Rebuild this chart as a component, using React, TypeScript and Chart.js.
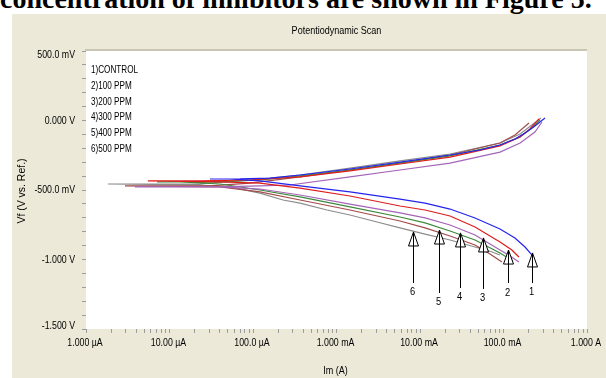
import React, { useEffect, useRef } from "react";
import { Chart, registerables } from "chart.js";

Chart.register(...registerables);

// ---------- data ----------
const seriesNames = ["1)CONTROL", "2)100 PPM", "3)200 PPM", "4)300 PPM", "5)400 PPM", "6)500 PPM"];
const seriesColors = ["#2424EE", "#E01C1C", "#A464B8", "#3C8A3C", "#A44A4A", "#8C8C8C"];

// current (A) and potential (V) for each scan
const controlI = [0.225, 0.181, 0.137, 0.0908, 0.0456, 0.0229, 0.0115, 0.00576, 0.00145, 3.66e-4, 1.21e-4, 5.3e-5, 3.05e-5, 7.0e-5, 1.6e-4, 3.66e-4, 1.45e-3, 5.76e-3, 0.0229, 0.0523, 0.0908, 0.137, 0.181, 0.238, 0.314];
const controlE = [-0.975, -0.91, -0.845, -0.781, -0.701, -0.637, -0.594, -0.565, -0.514, -0.471, -0.435, -0.421, -0.421, -0.42, -0.414, -0.392, -0.349, -0.299, -0.248, -0.212, -0.176, -0.133, -0.09, -0.04, 0.018];

const ppm100I = [0.153, 0.126, 0.0908, 0.0456, 0.0229, 0.0115, 0.00576, 0.00145, 3.66e-4, 1.21e-4, 4.03e-5, 1.01e-5, 5.5e-6, 2.3e-5, 9.2e-5, 3.66e-4, 1.45e-3, 5.76e-3, 0.0229, 0.0908, 0.158, 0.207, 0.266];
const ppm100E = [-0.982, -0.932, -0.874, -0.766, -0.687, -0.644, -0.615, -0.543, -0.486, -0.45, -0.442, -0.436, -0.435, -0.434, -0.428, -0.406, -0.363, -0.313, -0.263, -0.183, -0.119, -0.061, 0.011];

const ppm200I = [0.153, 0.12, 0.0908, 0.0456, 0.0229, 0.0115, 0.00576, 0.00145, 3.66e-4, 1.21e-4, 4.03e-5, 3.86e-6, 5.3e-5, 1.21e-4, 2.77e-4, 1.45e-3, 5.76e-3, 0.0229, 0.0908, 0.158, 0.238, 0.289];
const ppm200E = [-1.018, -0.975, -0.932, -0.824, -0.752, -0.701, -0.665, -0.601, -0.536, -0.493, -0.478, -0.478, -0.476, -0.471, -0.464, -0.406, -0.356, -0.306, -0.227, -0.162, -0.083, -0.011];

const ppm300I = [0.13, 0.0908, 0.0456, 0.0229, 0.0115, 0.00576, 0.00145, 3.66e-4, 1.21e-4, 4.03e-5, 1.34e-5, 7.1e-6, 4.0e-5, 1.21e-4, 3.66e-4, 1.45e-3, 5.76e-3, 0.0229, 0.0908, 0.158, 0.219, 0.274];
const ppm300E = [-1.011, -0.953, -0.86, -0.795, -0.737, -0.694, -0.622, -0.55, -0.5, -0.457, -0.442, -0.442, -0.441, -0.428, -0.399, -0.356, -0.306, -0.255, -0.176, -0.119, -0.054, 0.004];

const ppm400I = [0.0959, 0.0689, 0.0456, 0.0229, 0.0115, 0.00576, 0.00145, 3.66e-4, 1.21e-4, 4.03e-5, 2.93e-6, 3.05e-5, 9.2e-5, 3.66e-4, 1.45e-3, 5.76e-3, 0.0229, 0.0908, 0.137, 0.202];
const ppm400E = [-1.018, -0.96, -0.896, -0.831, -0.773, -0.723, -0.644, -0.572, -0.514, -0.478, -0.471, -0.47, -0.45, -0.406, -0.356, -0.306, -0.248, -0.162, -0.104, -0.018];

const ppm500I = [0.0908, 0.063, 0.0456, 0.0229, 0.0115, 0.00576, 0.00306, 0.00145, 7.69e-4, 3.66e-4, 2.29e-4, 1.21e-4, 5.3e-5, 2.3e-5, 1.83e-6, 2.3e-5, 9.2e-5, 3.66e-4, 1.45e-3, 5.76e-3, 0.0229, 0.0908, 0.158, 0.281];
const ppm500E = [-0.968, -0.932, -0.91, -0.86, -0.817, -0.773, -0.73, -0.68, -0.644, -0.594, -0.572, -0.522, -0.478, -0.464, -0.457, -0.456, -0.428, -0.392, -0.342, -0.291, -0.241, -0.162, -0.097, 0.018];

const seriesI = [controlI, ppm100I, ppm200I, ppm300I, ppm400I, ppm500I];
const seriesE = [controlE, ppm100E, ppm200E, ppm300E, ppm400E, ppm500E];

// axis tick labels
const xTickValues = [1e-6, 1e-5, 1e-4, 1e-3, 1e-2, 1e-1, 1];
const xTickLabels = ["1.000 µA", "10.00 µA", "100.0 µA", "1.000 mA", "10.00 mA", "100.0 mA", "1.000 A"];
const yTickValues = [0.5, 0, -0.5, -1.0, -1.5];
const yTickLabels = ["500.0 mV", "0.000 V", "-500.0 mV", "-1.000 V", "-1.500 V"];

// numbered arrows (annotations)
const arrowNumbers = ["1", "2", "3", "4", "5", "6"];
const arrowI = [0.219, 0.113, 0.0568, 0.0301, 0.0169, 0.00824];
const arrowTipE = [-0.953, -0.932, -0.845, -0.809, -0.788, -0.802];
const arrowTailE = [-1.169, -1.169, -1.212, -1.205, -1.241, -1.169];
const arrowLabelE = [-1.234, -1.241, -1.277, -1.27, -1.306, -1.234];

const titleText = "Potentiodynamic Scan";
const xTitle = "Im (A)";
const yTitle = "Vf (V vs. Ref.)";
const captionText = "concentration of inhibitors are shown in Figure 5.";

const FONT = '"Liberation Sans", Arial, sans-serif';

function txt(ctx: any, s: string, x: number, y: number, align: string, size: number, sx: number) {
  ctx.save();
  ctx.translate(x, y);
  ctx.scale(sx, 1);
  ctx.font = `${size}px ${FONT}`;
  ctx.textAlign = align;
  ctx.textBaseline = "middle";
  ctx.fillStyle = "#000";
  ctx.fillText(s, 0, 0);
  ctx.restore();
}

const decorPlugin = {
  id: "decor",
  beforeDraw(chart: any) {
    const { ctx, chartArea: a } = chart;
    ctx.save();
    ctx.fillStyle = "#FFFFFF";
    ctx.fillRect(a.left, a.top, a.right - a.left, a.bottom - a.top);
    ctx.fillStyle = "#C9C5B3";
    ctx.fillRect(a.left - 1, a.top - 2, a.right - a.left + 1, 2);
    ctx.restore();
  },
  afterDraw(chart: any) {
    const { ctx, chartArea: a, scales } = chart;
    const xs = scales.x;
    const ys = scales.y;
    ctx.save();
    // titles
    txt(ctx, titleText, (a.left + a.right) / 2, 17, "center", 11, 0.82);
    txt(ctx, xTitle, (a.left + a.right) / 2 - 1, 357, "center", 11, 0.82);
    ctx.save();
    ctx.translate(10, (a.top + a.bottom) / 2 + 1);
    ctx.rotate(-Math.PI / 2);
    txt(ctx, yTitle, 0, 0, "center", 11, 0.95);
    ctx.restore();
    // tick labels
    yTickValues.forEach((v, i) => {
      let y = ys.getPixelForValue(v);
      if (i === 0) y += 4;
      if (i === yTickValues.length - 1) y -= 3;
      txt(ctx, yTickLabels[i], a.left - 11, y, "right", 11, 0.8);
    });
    xTickValues.forEach((v, i) => {
      txt(ctx, xTickLabels[i], xs.getPixelForValue(v) - 1, a.bottom + 14, "center", 11, 0.8);
    });
    // legend text
    seriesNames.forEach((n, i) => {
      txt(ctx, n, a.left + 5, a.top + 19 + i * 15.8, "left", 11, 0.74);
    });
    // arrows
    ctx.strokeStyle = "#000";
    ctx.lineWidth = 1;
    arrowNumbers.forEach((lab, i) => {
      const x = Math.round(xs.getPixelForValue(arrowI[i])) + 0.5;
      const yTip = ys.getPixelForValue(arrowTipE[i]);
      const yTail = ys.getPixelForValue(arrowTailE[i]);
      const yLab = ys.getPixelForValue(arrowLabelE[i]);
      ctx.beginPath();
      ctx.moveTo(x, yTail);
      ctx.lineTo(x, yTip);
      ctx.stroke();
      ctx.beginPath();
      ctx.moveTo(x, yTip);
      ctx.lineTo(x - 5, yTip + 14);
      ctx.lineTo(x + 5, yTip + 14);
      ctx.closePath();
      ctx.fillStyle = "#FFFFFF";
      ctx.fill();
      ctx.stroke();
      ctx.beginPath();
      ctx.moveTo(x, yTip);
      ctx.lineTo(x, yTip + 14);
      ctx.stroke();
      txt(ctx, lab, x - 1, yLab, "center", 11, 0.85);
    });
    ctx.restore();
  },
};

export default function App() {
  const canvasRef = useRef<HTMLCanvasElement | null>(null);

  useEffect(() => {
    document.body.style.margin = "0";
    const canvas = canvasRef.current;
    if (!canvas) return;
    const datasets = seriesNames.map((name, i) => ({
      label: name,
      data: seriesI[i].map((v, k) => ({ x: v, y: seriesE[i][k] })),
      borderColor: seriesColors[i],
      backgroundColor: seriesColors[i],
      borderWidth: 1.2,
      pointRadius: 0,
      showLine: true,
      tension: 0,
      fill: false,
    }));
    const chart = new Chart(canvas, {
      type: "scatter",
      data: { datasets },
      options: {
        animation: false,
        responsive: false,
        devicePixelRatio: 1,
        layout: { padding: { left: 0, right: 19, top: 37, bottom: 0 } },
        plugins: { legend: { display: false }, tooltip: { enabled: false }, title: { display: false } },
        scales: {
          x: {
            type: "logarithmic",
            min: 1e-6,
            max: 1,
            afterBuildTicks: (axis: any) => {
              const t: any[] = [];
              for (let d = -6; d <= 0; d++) {
                for (let k = 1; k <= 9; k++) {
                  t.push({ value: k * Math.pow(10, d) });
                  if (d === 0) break;
                }
              }
              axis.ticks = t;
            },
            afterFit: (axis: any) => {
              axis.height = 49;
            },
            ticks: {
              autoSkip: false,
              maxRotation: 0,
              minRotation: 0,
              padding: 4,
              font: { family: FONT, size: 11 },
              callback: () => "",
            },
            grid: { drawOnChartArea: false, drawTicks: true, tickLength: 4, color: "#9C9C9C" },
            border: { display: false },
          },
          y: {
            type: "linear",
            min: -1.5,
            max: 0.5,
            afterBuildTicks: (axis: any) => {
              const t: any[] = [];
              for (let k = -15; k <= 5; k++) t.push({ value: k / 10 });
              axis.ticks = t;
            },
            afterFit: (axis: any) => {
              axis.width = 74;
            },
            ticks: {
              autoSkip: false,
              padding: 7,
              font: { family: FONT, size: 11 },
              callback: () => "",
            },
            grid: { drawOnChartArea: false, drawTicks: true, tickLength: 4, color: "#9C9C9C" },
            border: { display: false },
          },
        },
      },
      plugins: [decorPlugin],
    } as any);
    return () => chart.destroy();
  }, []);

  return (
    <div style={{ position: "relative", width: 606, height: 378, overflow: "hidden", background: "#FFFFFF" }}>
      <div
        style={{
          position: "absolute",
          left: 0,
          top: -15,
          whiteSpace: "nowrap",
          font: 'bold 28px "Liberation Serif", "Times New Roman", serif',
          lineHeight: "28px",
          color: "#000",
        }}
      >
        {captionText}
      </div>
      <div style={{ position: "absolute", left: 12, top: 14, width: 594, height: 364, background: "#ECE9D8" }}>
        <canvas ref={canvasRef} width={594} height={364} style={{ display: "block" }} />
      </div>
    </div>
  );
}
